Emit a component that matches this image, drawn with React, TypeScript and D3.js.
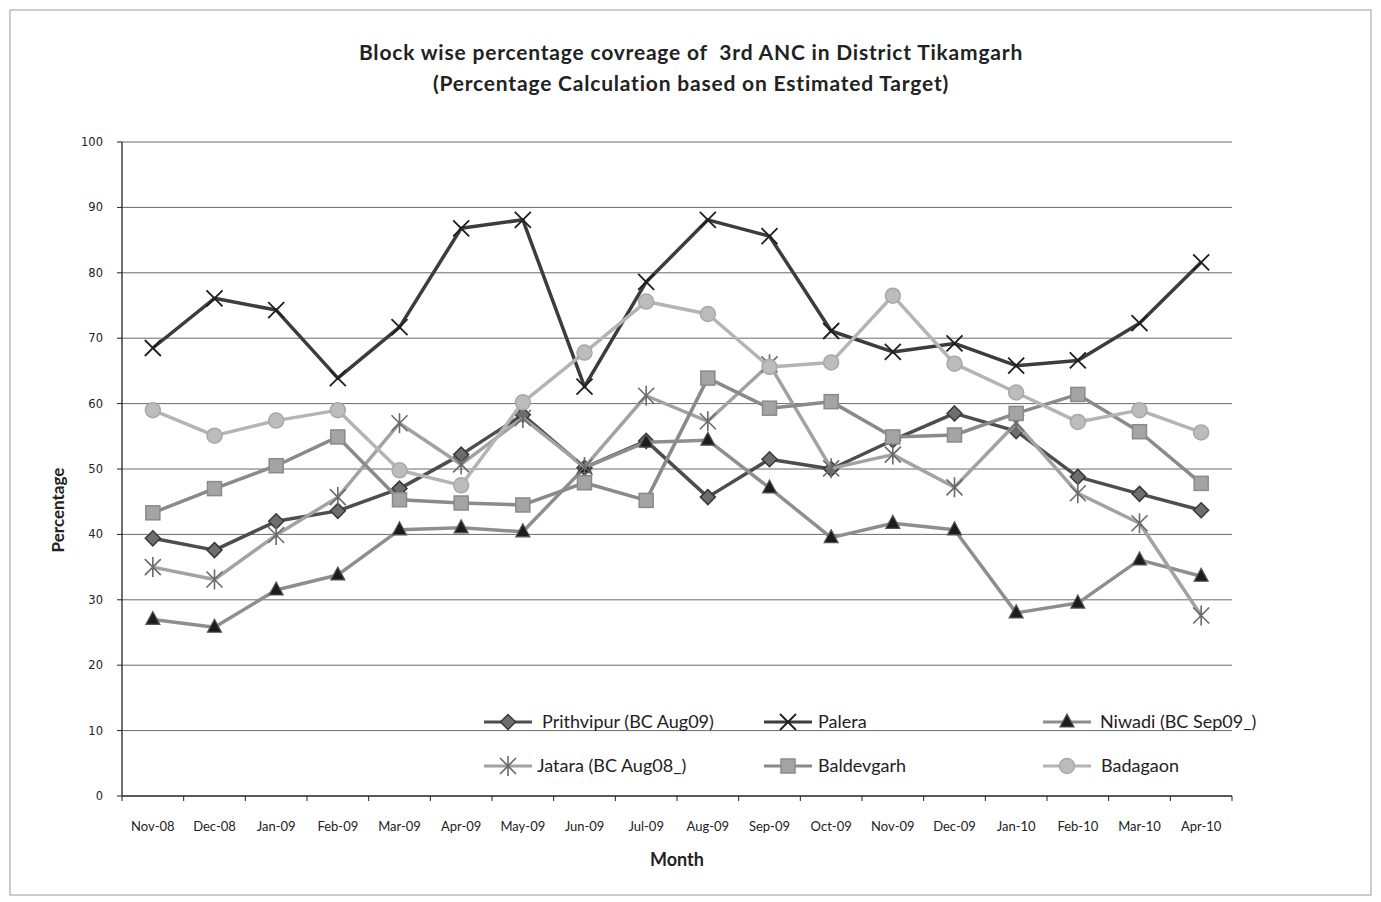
import React from "react";
import * as d3 from "d3";

// Months on the category axis
const months = [
  "Nov-08", "Dec-08", "Jan-09", "Feb-09", "Mar-09", "Apr-09", "May-09", "Jun-09", "Jul-09",
  "Aug-09", "Sep-09", "Oct-09", "Nov-09", "Dec-09", "Jan-10", "Feb-10", "Mar-10", "Apr-10",
];

// Percentage coverage of 3rd ANC per block
const prithvipur = [39.4, 37.6, 42.0, 43.6, 47.0, 52.2, 58.3, 50.2, 54.3, 45.7, 51.5, 50.0, 54.4, 58.5, 55.8, 48.8, 46.2, 43.7];
const palera = [68.5, 76.1, 74.3, 63.9, 71.7, 86.8, 88.1, 62.6, 78.6, 88.1, 85.6, 71.1, 67.9, 69.2, 65.8, 66.6, 72.3, 81.6];
const niwadi = [27.0, 25.8, 31.5, 33.8, 40.7, 41.0, 40.4, 50.2, 54.1, 54.4, 47.1, 39.5, 41.7, 40.7, 28.0, 29.5, 36.1, 33.6];
const jatara = [35.0, 33.1, 39.9, 45.7, 57.0, 50.7, 57.8, 50.3, 61.2, 57.3, 66.0, 50.1, 52.2, 47.2, 57.0, 46.3, 41.7, 27.6];
const baldevgarh = [43.3, 47.0, 50.5, 54.9, 45.3, 44.8, 44.5, 47.9, 45.2, 63.9, 59.3, 60.3, 54.9, 55.2, 58.5, 61.4, 55.7, 47.8];
const badagaon = [59.0, 55.1, 57.4, 59.0, 49.8, 47.5, 60.2, 67.8, 75.6, 73.7, 65.6, 66.3, 76.5, 66.1, 61.7, 57.2, 59.0, 55.6];

const yTicks = [0, 10, 20, 30, 40, 50, 60, 70, 80, 90, 100];

type Marker = "diamond" | "x" | "triangle" | "star" | "square" | "circle";

interface Series {
  name: string;
  values: number[];
  line: string;
  marker: Marker;
  fill: string;
  stroke: string;
}

const series: Series[] = [
  { name: "Prithvipur (BC Aug09)", values: prithvipur, line: "#4d4d4d", marker: "diamond", fill: "#6e6e6e", stroke: "#3a3a3a" },
  { name: "Palera", values: palera, line: "#3c3c3c", marker: "x", fill: "none", stroke: "#1e1e1e" },
  { name: "Niwadi (BC Sep09_)", values: niwadi, line: "#8e8e8e", marker: "triangle", fill: "#1c1c1c", stroke: "#555" },
  { name: "Jatara (BC Aug08_)", values: jatara, line: "#a2a2a2", marker: "star", fill: "none", stroke: "#6a6a6a" },
  { name: "Baldevgarh", values: baldevgarh, line: "#8a8a8a", marker: "square", fill: "#a4a4a4", stroke: "#8a8a8a" },
  { name: "Badagaon", values: badagaon, line: "#b4b4b4", marker: "circle", fill: "#bcbcbc", stroke: "#a8a8a8" },
];

const W = 1381;
const H = 902;
const plot = { left: 122, right: 1232, top: 142, bottom: 796 };
const font = "Lato, 'Open Sans', sans-serif";

function MarkerShape({ type, cx, cy, fill, stroke }: { type: Marker; cx: number; cy: number; fill: string; stroke: string }) {
  const s = 6.5;
  switch (type) {
    case "diamond":
      return <path d={`M${cx},${cy - s - 1}L${cx + s + 1},${cy}L${cx},${cy + s + 1}L${cx - s - 1},${cy}Z`} fill={fill} stroke={stroke} strokeWidth={1.5} />;
    case "x":
      return (
        <path d={`M${cx - 8},${cy - 8}L${cx + 8},${cy + 8}M${cx - 8},${cy + 8}L${cx + 8},${cy - 8}`} stroke={stroke} strokeWidth={1.8} fill="none" />
      );
    case "triangle":
      return <path d={`M${cx},${cy - 8}L${cx + 7},${cy + 5}L${cx - 7},${cy + 5}Z`} fill={fill} stroke={stroke} strokeWidth={1.2} />;
    case "star":
      return (
        <path
          d={`M${cx - 8},${cy - 8}L${cx + 8},${cy + 8}M${cx - 8},${cy + 8}L${cx + 8},${cy - 8}M${cx},${cy - 10}L${cx},${cy + 10}`}
          stroke={stroke}
          strokeWidth={1.6}
          fill="none"
        />
      );
    case "square":
      return <rect x={cx - 7} y={cy - 7} width={14} height={14} fill={fill} stroke={stroke} strokeWidth={1.5} />;
    case "circle":
      return <circle cx={cx} cy={cy} r={7.5} fill={fill} stroke={stroke} strokeWidth={1.5} />;
  }
}

export default function App() {
  const x = d3.scaleBand<string>().domain(months).range([plot.left, plot.right]);
  const y = d3.scaleLinear().domain([0, 100]).range([plot.bottom, plot.top]);
  const cx = (m: string) => (x(m) as number) + x.bandwidth() / 2;

  const line = d3
    .line<number>()
    .x((_, i) => cx(months[i]))
    .y((v) => y(v));

  const legendItems = [
    { s: series[0], lx: 484, ly: 722, tx: 542 },
    { s: series[1], lx: 764, ly: 722, tx: 818 },
    { s: series[2], lx: 1043, ly: 722, tx: 1100 },
    { s: series[3], lx: 484, ly: 766, tx: 537 },
    { s: series[4], lx: 764, ly: 766, tx: 818 },
    { s: series[5], lx: 1043, ly: 766, tx: 1101 },
  ];

  const bandEdges = months.map((m) => x(m) as number).concat([plot.right]);

  return (
    <svg width={W} height={H} style={{ position: "absolute", left: 0, top: 0, background: "#fff" }}>
      <rect x={10} y={10} width={1361} height={885} fill="#fff" stroke="#9a9a9a" strokeWidth={1} />

      {/* Title */}
      <text x={691} y={60} textAnchor="middle" fontFamily={font} fontWeight="bold" fontSize={21} letterSpacing={0.8} fill="#222" style={{ whiteSpace: "pre" }}>
        {"Block wise percentage covreage of  3rd ANC in District Tikamgarh"}
      </text>
      <text x={691} y={91} textAnchor="middle" fontFamily={font} fontWeight="bold" fontSize={21} letterSpacing={0.8} fill="#222">
        (Percentage Calculation based on Estimated Target)
      </text>

      {/* Horizontal gridlines */}
      {yTicks.filter((t) => t > 0).map((t) => (
        <line key={t} x1={plot.left} x2={plot.right} y1={y(t)} y2={y(t)} stroke="#6a6a6a" strokeWidth={1} />
      ))}

      {/* Y axis */}
      <line x1={plot.left} x2={plot.left} y1={plot.top} y2={plot.bottom} stroke="#222" strokeWidth={1.3} />
      {yTicks.map((t) => (
        <g key={t}>
          <line x1={plot.left - 5} x2={plot.left} y1={y(t)} y2={y(t)} stroke="#222" strokeWidth={1} />
          <text x={103} y={y(t) + 4} textAnchor="end" fontFamily="'DejaVu Sans', sans-serif" fontSize={11.5} fill="#222">
            {t}
          </text>
        </g>
      ))}

      {/* X axis */}
      <line x1={plot.left} x2={plot.right} y1={plot.bottom} y2={plot.bottom} stroke="#222" strokeWidth={1.3} />
      {bandEdges.map((e, i) => (
        <line key={i} x1={e} x2={e} y1={plot.bottom} y2={plot.bottom + 5} stroke="#222" strokeWidth={1} />
      ))}
      {months.map((m) => (
        <text key={m} x={cx(m)} y={831} textAnchor="middle" fontFamily={font} fontSize={13} fill="#222">
          {m}
        </text>
      ))}

      {/* Axis titles */}
      <text x={677} y={866} textAnchor="middle" fontFamily={font} fontWeight="bold" fontSize={18} fill="#222">
        Month
      </text>
      <text
        transform={`translate(64,510) rotate(-90)`}
        textAnchor="middle"
        fontFamily={font}
        fontWeight="bold"
        fontSize={17}
        fill="#222"
      >
        Percentage
      </text>

      {/* Series lines and markers */}
      {series.map((s) => (
        <g key={s.name}>
          <path d={line(s.values) ?? ""} fill="none" stroke={s.line} strokeWidth={3.5} strokeLinejoin="round" />
          {s.values.map((v, i) => (
            <MarkerShape key={i} type={s.marker} cx={cx(months[i])} cy={y(v)} fill={s.fill} stroke={s.stroke} />
          ))}
        </g>
      ))}

      {/* Legend */}
      {legendItems.map(({ s, lx, ly, tx }) => (
        <g key={s.name}>
          <line x1={lx} x2={lx + 48} y1={ly} y2={ly} stroke={s.line} strokeWidth={3} />
          <MarkerShape type={s.marker} cx={lx + 24} cy={ly} fill={s.fill} stroke={s.stroke} />
          <text x={tx} y={ly + 6} fontFamily={font} fontSize={18} fill="#222">
            {s.name}
          </text>
        </g>
      ))}
    </svg>
  );
}
